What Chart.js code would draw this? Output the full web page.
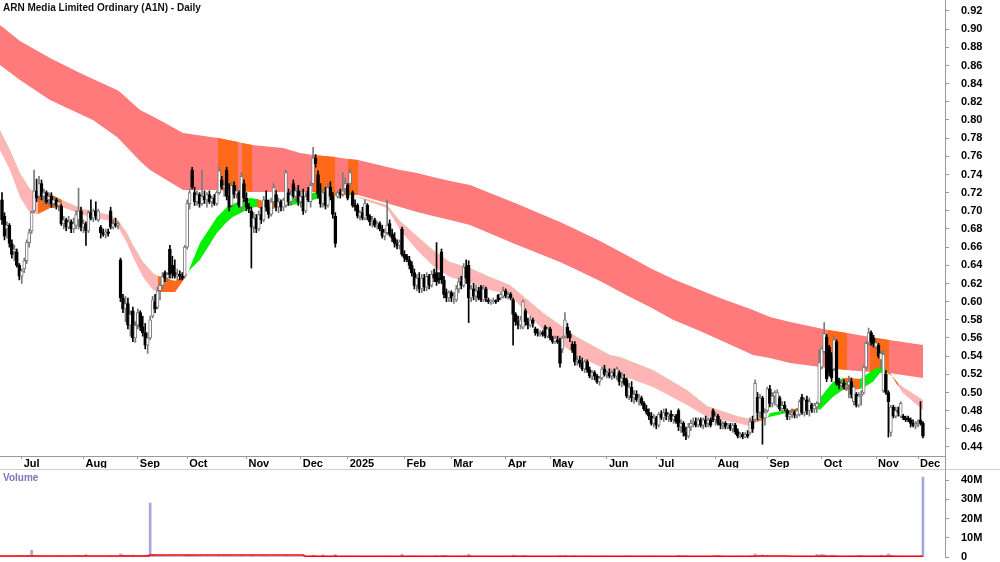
<!DOCTYPE html>
<html><head><meta charset="utf-8">
<script src="https://cdn.jsdelivr.net/npm/chart.js@4.4.1/dist/chart.umd.min.js"></script>
<style>
html,body{margin:0;padding:0;background:#fff;}
#wrap{position:relative;width:1000px;height:562px;overflow:hidden;font-family:"Liberation Sans",Arial,sans-serif;}
#price{position:absolute;left:0;top:0;}
#vol{position:absolute;left:0;top:468px;}
.title{position:absolute;left:3px;top:2px;font-weight:bold;font-size:10px;color:#111;white-space:nowrap;}
.vlabel{position:absolute;left:3px;top:472px;font-weight:bold;font-size:10px;color:#7878b8;}
.sep{position:absolute;left:0;top:469px;width:1000px;height:1px;background:#cfcfcf;}
.vline{position:absolute;left:945px;top:455px;width:1px;height:16px;background:#999;}
</style></head><body>
<div id="wrap">
<canvas id="price" width="1000" height="468"></canvas>
<canvas id="vol" width="1000" height="94"></canvas>
<div class="sep"></div>
<div class="vline"></div>
<div class="title">ARN Media Limited Ordinary (A1N) - Daily</div>
<div class="vlabel">Volume</div>
</div>
<script>
// ---- tick labels ----
const monthLabels = ['Jul','Aug','Sep','Oct','Nov','Dec','2025','Feb','Mar','Apr','May','Jun','Jul','Aug','Sep','Oct','Nov','Dec'];
const monthTickIdx = [8,33,55,75,99,121,140,163,182,204,222,245,265,289,310,332,354,371];
const priceTicks = [0.44,0.46,0.48,0.50,0.52,0.54,0.56,0.58,0.60,0.62,0.64,0.66,0.68,0.70,0.72,0.74,0.76,0.78,0.80,0.82,0.84,0.86,0.88,0.90,0.92];
const volTicks = [0,10,20,30,40];

// ---- daily candles (trading-day index 0..373) ----
const opens = [.712,.694,.680,.684,.664,.655,.655,.640,.628,.636,.645,.665,.678,.700,.722,.716,.730,.716,.720,.712,
.716,.708,.712,.706,.705,.686,.690,.682,.688,.680,.684,.690,.700,.682,.686,.678,.698,.692,.700,.690,
.682,.676,.674,.677,.700,.682,.686,.684,.646,.604,.592,.598,.574,.590,.560,.574,.588,.572,.566,.552,
.560,.584,.600,.594,.612,.618,.632,.626,.658,.640,.632,.628,.630,.628,.628,.660,.708,.745,.720,.710,
.718,.708,.716,.712,.718,.710,.714,.708,.720,.734,.726,.745,.716,.706,.728,.718,.720,.704,.730,.714,
.704,.700,.682,.692,.680,.696,.690,.712,.704,.696,.710,.718,.704,.710,.704,.706,.720,.710,.730,.716,
.722,.710,.716,.700,.722,.710,.730,.758,.740,.718,.708,.720,.706,.726,.716,.694,.716,.720,.718,.724,
.728,.730,.720,.706,.706,.694,.698,.692,.706,.694,.688,.690,.684,.686,.680,.672,.676,.686,.674,.670,
.664,.662,.680,.652,.650,.646,.640,.632,.618,.626,.614,.626,.616,.628,.618,.630,.632,.626,.655,.624,
.610,.604,.610,.604,.602,.614,.622,.618,.638,.640,.604,.614,.606,.612,.616,.602,.614,.602,.600,.600,
.601,.607,.604,.606,.612,.606,.608,.602,.586,.578,.574,.572,.590,.578,.574,.580,.570,.566,.565,.566,
.572,.562,.570,.560,.556,.558,.557,.548,.562,.572,.564,.553,.553,.534,.536,.532,.526,.534,.525,.518,
.522,.518,.512,.516,.526,.520,.522,.518,.522,.518,.522,.512,.516,.514,.496,.506,.494,.498,.492,.494,
.488,.482,.478,.474,.466,.472,.464,.476,.472,.478,.474,.476,.470,.474,.480,.462,.466,.456,.452,.462,
.466,.468,.464,.470,.464,.470,.466,.470,.480,.470,.474,.466,.464,.466,.462,.464,.460,.464,.457,.452,
.454,.451,.454,.456,.468,.470,.495,.478,.494,.472,.480,.504,.488,.496,.486,.494,.482,.486,.480,.473,
.476,.478,.475,.476,.495,.478,.492,.480,.486,.482,.484,.488,.528,.545,.561,.550,.540,.526,.556,.512,
.508,.510,.506,.508,.512,.490,.498,.486,.496,.500,.528,.555,.566,.560,.550,.552,.536,.502,.520,.500,
.456,.484,.474,.480,.474,.474,.472,.472,.470,.466,.464,.466,.470,.466];
const highs = [.720,.698,.688,.686,.668,.662,.658,.642,.636,.648,.668,.680,.700,.745,.735,.738,.734,.724,.722,.720,
.720,.716,.714,.712,.707,.694,.692,.694,.690,.692,.700,.725,.704,.690,.688,.700,.712,.702,.710,.702,
.684,.680,.680,.680,.704,.690,.692,.688,.648,.608,.606,.604,.590,.594,.578,.592,.590,.584,.576,.566,
.584,.606,.608,.616,.622,.632,.634,.632,.662,.650,.646,.636,.634,.632,.662,.712,.724,.748,.726,.722,
.720,.745,.722,.720,.722,.716,.718,.722,.748,.738,.732,.748,.730,.732,.732,.726,.722,.742,.734,.720,
.708,.704,.698,.696,.700,.704,.716,.722,.712,.714,.730,.722,.714,.712,.714,.745,.724,.722,.734,.726,
.728,.722,.724,.720,.726,.732,.770,.762,.744,.730,.724,.726,.730,.732,.720,.698,.722,.724,.742,.736,
.730,.746,.722,.712,.708,.700,.704,.712,.708,.696,.694,.692,.688,.688,.684,.680,.712,.690,.680,.676,
.668,.668,.682,.656,.652,.650,.644,.636,.630,.632,.630,.630,.632,.630,.634,.636,.665,.632,.658,.628,
.614,.612,.612,.610,.618,.626,.628,.642,.646,.645,.618,.620,.618,.616,.618,.618,.616,.604,.602,.604,
.602,.608,.610,.616,.614,.610,.610,.604,.588,.584,.584,.602,.592,.582,.584,.582,.572,.570,.568,.568,
.574,.572,.572,.562,.562,.562,.560,.562,.588,.576,.568,.556,.556,.540,.540,.538,.536,.536,.528,.524,
.524,.520,.518,.528,.530,.524,.526,.524,.526,.528,.524,.522,.520,.516,.510,.512,.502,.502,.498,.496,
.490,.486,.482,.478,.476,.474,.478,.480,.482,.482,.478,.480,.476,.476,.482,.470,.468,.462,.466,.470,
.472,.472,.472,.472,.472,.474,.472,.472,.482,.478,.476,.470,.468,.468,.466,.466,.466,.466,.460,.456,
.456,.456,.458,.472,.474,.514,.500,.498,.496,.482,.506,.508,.500,.502,.503,.496,.490,.490,.482,.480,
.482,.480,.482,.492,.498,.494,.496,.494,.488,.488,.490,.547,.550,.577,.564,.552,.544,.562,.558,.516,
.514,.514,.512,.518,.516,.508,.500,.500,.502,.530,.556,.571,.568,.563,.558,.554,.546,.546,.524,.502,
.486,.486,.484,.484,.490,.476,.474,.474,.472,.470,.468,.470,.490,.468];
const lows = [.685,.668,.670,.660,.648,.645,.638,.624,.620,.632,.642,.660,.675,.698,.710,.712,.712,.706,.708,.706,
.704,.704,.702,.700,.684,.680,.678,.680,.676,.676,.680,.680,.678,.676,.662,.676,.690,.688,.690,.688,
.670,.672,.670,.672,.680,.680,.682,.680,.600,.588,.578,.570,.562,.556,.555,.570,.568,.562,.548,.543,
.558,.582,.588,.592,.602,.614,.622,.622,.626,.626,.626,.624,.624,.624,.626,.658,.702,.724,.706,.706,
.704,.706,.708,.704,.708,.704,.706,.706,.718,.724,.716,.712,.700,.704,.714,.714,.704,.700,.710,.700,
.698,.637,.676,.676,.678,.686,.688,.700,.692,.694,.706,.700,.698,.700,.700,.704,.706,.706,.714,.710,
.706,.704,.696,.698,.710,.704,.728,.748,.714,.704,.704,.702,.704,.712,.692,.660,.714,.714,.716,.720,
.712,.728,.704,.700,.692,.690,.690,.690,.690,.684,.682,.682,.680,.678,.670,.668,.674,.672,.666,.660,
.658,.658,.650,.644,.644,.636,.628,.614,.612,.610,.610,.612,.612,.614,.616,.622,.618,.620,.620,.604,
.600,.600,.600,.598,.600,.610,.614,.616,.620,.577,.600,.602,.600,.602,.600,.600,.600,.598,.597,.598,
.598,.600,.602,.604,.604,.603,.602,.552,.574,.570,.570,.570,.574,.570,.572,.572,.563,.562,.562,.562,
.560,.560,.558,.554,.554,.554,.528,.544,.560,.560,.556,.544,.530,.530,.528,.524,.522,.522,.516,.514,
.514,.510,.508,.514,.518,.516,.516,.514,.516,.514,.508,.506,.508,.494,.492,.490,.488,.490,.486,.486,
.480,.476,.470,.464,.462,.460,.462,.470,.468,.470,.468,.468,.466,.466,.458,.456,.452,.448,.450,.458,
.462,.462,.462,.462,.460,.462,.462,.462,.468,.464,.464,.460,.460,.460,.460,.458,.456,.454,.450,.450,
.449,.450,.450,.454,.456,.468,.470,.472,.443,.464,.478,.484,.484,.486,.484,.480,.478,.480,.470,.470,
.472,.472,.472,.474,.476,.474,.476,.474,.478,.478,.478,.486,.526,.543,.512,.518,.512,.524,.508,.504,
.504,.504,.502,.494,.494,.486,.484,.484,.486,.498,.526,.552,.552,.550,.548,.538,.526,.500,.498,.451,
.452,.472,.472,.474,.472,.470,.468,.468,.462,.462,.460,.462,.464,.450];
const closes = [.690,.672,.684,.664,.652,.658,.640,.628,.634,.645,.665,.676,.698,.722,.714,.730,.716,.720,.710,.716,
.708,.712,.706,.710,.686,.690,.682,.688,.680,.686,.696,.700,.682,.686,.678,.698,.692,.700,.694,.700,
.676,.674,.677,.675,.682,.686,.684,.686,.604,.592,.598,.574,.586,.560,.574,.588,.572,.566,.552,.560,
.580,.602,.592,.612,.618,.628,.626,.630,.630,.632,.628,.630,.628,.626,.660,.708,.720,.726,.710,.718,
.708,.716,.712,.718,.710,.714,.708,.720,.744,.726,.728,.716,.704,.728,.718,.722,.706,.738,.714,.704,
.702,.682,.692,.680,.696,.690,.712,.704,.696,.710,.726,.704,.710,.704,.712,.742,.710,.718,.716,.722,
.710,.716,.700,.716,.712,.728,.758,.752,.718,.708,.720,.706,.726,.716,.696,.664,.720,.718,.722,.730,
.714,.742,.706,.704,.694,.698,.692,.708,.694,.688,.690,.684,.686,.680,.672,.676,.684,.674,.670,.664,
.662,.666,.652,.648,.646,.640,.632,.618,.626,.614,.626,.616,.628,.618,.630,.626,.622,.624,.624,.608,
.604,.610,.604,.606,.614,.622,.618,.638,.626,.604,.614,.606,.612,.604,.602,.614,.604,.600,.600,.601,
.600,.602,.608,.612,.606,.608,.604,.586,.578,.574,.580,.600,.578,.574,.580,.576,.566,.565,.566,.564,
.562,.570,.560,.556,.560,.556,.532,.560,.580,.564,.560,.547,.534,.536,.532,.526,.534,.525,.518,.522,
.518,.512,.516,.526,.520,.522,.518,.522,.518,.526,.512,.516,.510,.496,.506,.494,.498,.492,.494,.488,
.482,.478,.474,.466,.472,.464,.476,.472,.478,.474,.476,.470,.474,.468,.462,.466,.456,.452,.462,.466,
.468,.464,.470,.464,.470,.466,.470,.464,.470,.474,.466,.464,.466,.462,.464,.460,.464,.457,.452,.454,
.451,.454,.452,.468,.460,.510,.478,.494,.472,.478,.504,.488,.496,.500,.500,.482,.486,.482,.473,.476,
.478,.475,.480,.490,.478,.492,.480,.490,.482,.486,.488,.533,.548,.565,.515,.522,.516,.558,.510,.508,
.510,.506,.508,.512,.498,.506,.486,.496,.498,.528,.554,.566,.556,.553,.555,.540,.543,.542,.500,.490,
.484,.474,.480,.478,.488,.472,.470,.470,.466,.464,.466,.468,.466,.452];

// ---- volume (millions) ----
const volumeM = [0.6,0.4,0.3,0.5,0.4,0.3,0.6,0.8,0.5,0.4,0.7,0.9,3.5,0.8,0.5,0.6,0.4,0.3,0.5,0.4,
0.3,0.4,0.3,0.5,0.7,0.4,0.3,0.3,0.4,0.5,0.6,0.8,0.4,0.3,1.2,0.5,0.4,0.3,0.4,0.3,
0.3,0.2,0.3,0.4,0.6,0.3,0.4,0.3,1.6,1.1,0.8,0.9,0.7,1.0,0.6,0.5,0.7,0.6,0.9,1.2,
28.0,1.4,0.9,0.8,0.7,0.6,0.5,0.4,0.6,0.5,0.4,0.3,0.3,0.4,0.6,1.0,0.8,0.7,0.6,0.5,
0.4,0.6,0.3,0.4,0.3,0.3,0.4,0.3,0.7,0.5,0.4,0.6,0.5,0.4,0.3,0.4,0.4,0.6,0.4,0.3,
0.3,0.8,0.4,0.3,0.3,0.4,0.5,0.4,0.3,0.3,0.5,0.4,0.3,0.3,0.3,0.6,0.4,0.3,0.4,0.3,
0.3,0.3,0.4,0.3,0.3,0.4,0.9,0.5,0.4,0.3,1.1,0.4,0.3,0.4,0.5,1.3,0.4,0.3,0.4,0.3,
0.4,0.5,0.4,0.3,0.4,0.3,0.3,0.4,0.3,0.3,0.3,0.2,0.3,0.3,0.4,0.3,0.5,0.4,0.3,0.3,
0.3,0.3,1.5,0.6,0.4,0.5,0.4,0.6,0.4,0.5,0.4,0.3,0.4,0.3,0.4,0.3,0.7,0.4,0.6,0.8,
0.6,0.4,0.3,0.4,0.3,0.4,0.4,0.6,0.5,1.4,0.6,0.4,0.4,0.3,0.4,0.4,0.3,0.2,0.2,0.2,
0.2,0.3,0.3,0.4,0.3,0.2,0.3,1.0,0.6,0.5,0.4,0.8,0.5,0.4,0.3,0.3,0.3,0.2,0.2,0.3,
0.4,0.3,0.3,0.3,0.2,0.3,0.7,0.5,0.8,0.4,0.3,0.5,0.6,0.4,0.3,0.4,0.3,0.4,0.5,0.3,
0.3,0.4,0.3,0.5,0.3,0.3,0.3,0.3,0.3,0.3,0.4,0.3,0.3,0.7,0.4,0.5,0.3,0.3,0.3,0.4,
0.5,0.4,0.4,0.6,0.4,0.5,0.4,0.3,0.3,0.3,0.3,0.3,0.3,0.3,0.8,0.5,0.6,0.7,0.4,0.3,
0.3,0.3,0.3,0.3,0.3,0.3,0.3,0.3,0.6,0.4,0.4,0.3,0.3,0.2,0.2,0.3,0.3,0.4,0.5,0.3,
0.4,0.3,0.3,0.6,0.5,1.6,0.9,0.6,1.1,0.5,0.9,0.6,0.4,0.4,0.5,0.5,0.4,0.3,0.5,0.3,
0.3,0.3,0.3,0.5,0.5,0.4,0.4,0.4,0.3,0.3,1.3,1.0,1.4,1.2,0.9,0.7,1.0,0.9,0.6,0.4,
0.3,0.4,0.3,0.5,0.5,0.4,0.6,0.8,0.9,0.6,0.5,0.4,0.6,0.5,0.5,0.6,1.0,0.6,0.8,1.6,
1.0,0.6,0.5,0.4,0.5,0.4,0.3,0.3,0.4,0.4,0.3,0.3,0.7,41.5];
const volMAIdx = [-0.81,59.5,60,122,123,200,288,290,292,305,306,318,320,373];
const volMA    = [0.55,0.55,1.05,1.0,0.35,0.35,0.35,0.5,0.35,0.35,0.55,0.55,0.35,0.4];

// ---- long-term moving-average ribbon (edges) ----
const longIdx = [-0.81,7.29,19.44,31.59,36.86,46.58,47.79,55.89,59.94,66.02,73.31,87.48,95.58,97.21,101.26,113.81,120.70,125.96,134.87,140.14,144.19,154.31,161.20,168.08,174.57,181.45,189.55,207.78,226.00,232.89,242.20,254.35,262.45,271.77,282.70,290.81,304.17,311.06,319.16,334.55,342.24,351.56,359.26,373.03];
const longTop = [0.9046,0.8870,0.8683,0.8518,0.8452,0.8330,0.8308,0.8110,0.8055,0.7967,0.7857,0.7802,0.7758,0.7747,0.7725,0.7692,0.7637,0.7615,0.7593,0.7571,0.7560,0.7494,0.7450,0.7417,0.7373,0.7329,0.7285,0.7087,0.6878,0.6790,0.6668,0.6492,0.6371,0.6250,0.6129,0.6041,0.5909,0.5832,0.5777,0.5689,0.5656,0.5612,0.5579,0.5524];
const longBot = [0.8606,0.8440,0.8220,0.8066,0.8000,0.7813,0.7780,0.7549,0.7450,0.7351,0.7230,0.7230,0.7219,0.7219,0.7208,0.7208,0.7208,0.7208,0.7175,0.7175,0.7175,0.7098,0.7043,0.6988,0.6944,0.6900,0.6845,0.6635,0.6437,0.6349,0.6228,0.6052,0.5942,0.5800,0.5678,0.5579,0.5414,0.5381,0.5326,0.5270,0.5248,0.5226,0.5215,0.5160];

// ---- short-term ribbon: fast edge and slow edge ----
const ribIdx = [-0.81,3.24,7.29,11.34,14.58,19.44,24.30,32.81,43.74,46.98,50.63,53.06,57.11,61.16,63.18,70.07,75.33,76.14,80.19,87.08,91.13,93.56,97.61,100.45,103.28,107.33,111.38,120.70,128.80,134.06,139.73,142.16,147.83,155.93,161.20,168.08,174.57,181.45,189.55,197.65,205.75,219.12,232.89,246.25,250.30,263.67,277.44,285.54,297.69,302.96,305.79,309.84,311.06,317.94,319.16,324.42,330.09,331.31,336.57,340.62,347.51,348.72,352.77,355.61,358.04,360.47,362.90,364.92,373.03];
const ribFast = [0.767,0.745,0.7153,0.6977,0.6966,0.7032,0.7043,0.6955,0.6888,0.6823,0.6646,0.6492,0.6272,0.6129,0.6107,0.6107,0.6311,0.6382,0.6646,0.6933,0.7043,0.7076,0.7120,0.7142,0.7131,0.7087,0.7098,0.7153,0.7219,0.7197,0.7219,0.7170,0.7109,0.7032,0.6790,0.6569,0.6393,0.6272,0.6206,0.6129,0.6074,0.5689,0.5403,0.5237,0.5194,0.5061,0.4863,0.4731,0.4665,0.4632,0.4676,0.4720,0.4775,0.4808,0.4808,0.4841,0.4874,0.4940,0.5116,0.5160,0.5149,0.5171,0.5248,0.5281,0.5270,0.5182,0.5072,0.4995,0.4808];
const ribSlow = [0.789,0.767,0.7417,0.7241,0.7186,0.7186,0.7120,0.7021,0.6955,0.6900,0.6757,0.6624,0.6437,0.6316,0.6283,0.6228,0.6311,0.6349,0.6459,0.6757,0.6878,0.6933,0.6988,0.7032,0.7043,0.6988,0.7043,0.7076,0.7142,0.7164,0.7175,0.7170,0.7131,0.7065,0.6888,0.6723,0.6569,0.6437,0.6371,0.6272,0.6184,0.5877,0.5612,0.5414,0.5392,0.5248,0.5028,0.4852,0.4742,0.4709,0.4709,0.4720,0.4731,0.4775,0.4775,0.4797,0.4819,0.4808,0.4951,0.5028,0.5039,0.5050,0.5116,0.5215,0.5226,0.5182,0.5105,0.5061,0.4918];

// ---- index spans where the ribbons are drawn orange ----
const orangeLongRanges = [[87.48,95.58],[97.21,101.26],[125.96,134.87],[140.14,144.19],[334.55,342.24],[351.56,359.26]];
const orangeRibbonRanges = [[14.58,24.30],[63.18,75.33],[103.28,111.38],[134.06,139.73],[305.79,309.84],[319.16,324.42],[340.62,347.51],[358.04,362.90]];

// ---- styling ----
const RED = '#ff7a7a', PINK = '#ffb5b5', GREEN = '#00f000', ORANGE = '#ff6a1a';
const X_MIN = -0.81, X_MAX = 381.93;
const Y_MIN = 0.43009, Y_MAX = 0.93211;
const FONT = {family: '"Liberation Sans", Arial, sans-serif', size: 11, weight: 'bold', lineHeight: 1};

function pts(xs, ys) { return xs.map((x, k) => ({x: x, y: ys[k]})); }
function within(xs, r) { const o = []; xs.forEach((x, k) => { if (x >= r[0] - 1e-6 && x <= r[1] + 1e-6) o.push(k); }); return o; }
function noPad(s) { s.paddingTop = 0; s.paddingBottom = 0; s.paddingLeft = 0; s.paddingRight = 0; }

const datasets = [];
function add(ds) { ds.order = 1000 - datasets.length; datasets.push(ds); return datasets.length - 1; }
function lineDS(data, extra) {
  return Object.assign({type: 'line', data: data, pointRadius: 0, borderWidth: 0, borderColor: 'rgba(0,0,0,0)', tension: 0, fill: false}, extra || {});
}

// long band
add(lineDS(pts(longIdx, longTop)));
add(lineDS(pts(longIdx, longBot), {fill: '-1', backgroundColor: RED}));
// orange columns over long band
orangeLongRanges.forEach(r => {
  const ks = within(longIdx, r);
  add(lineDS(ks.map(k => ({x: longIdx[k], y: longTop[k]}))));
  add(lineDS(ks.map(k => ({x: longIdx[k], y: longBot[k]})), {fill: '-1', backgroundColor: ORANGE}));
});
// short ribbon: green where fast above slow, pink where below
add(lineDS(pts(ribIdx, ribSlow)));
add(lineDS(pts(ribIdx, ribFast), {fill: {target: '-1', above: GREEN, below: PINK}}));
orangeRibbonRanges.forEach(r => {
  const ks = within(ribIdx, r);
  add(lineDS(ks.map(k => ({x: ribIdx[k], y: Math.max(ribFast[k], ribSlow[k])}))));
  add(lineDS(ks.map(k => ({x: ribIdx[k], y: Math.min(ribFast[k], ribSlow[k])})), {fill: '-1', backgroundColor: ORANGE}));
});

// candles
const wick = [], body = [], wickCol = [], bodyFill = [], bodyBorder = [];
opens.forEach((o, i) => {
  const c = closes[i], up = c >= o;
  wick.push({x: i, y: [lows[i], highs[i]]});
  body.push({x: i, y: [Math.min(o, c), Math.max(o, c)]});
  wickCol.push(up ? '#7a7a7a' : '#000000');
  bodyFill.push(up ? '#ffffff' : '#000000');
  bodyBorder.push(up ? '#7a7a7a' : '#000000');
});
add({type: 'bar', data: wick, backgroundColor: wickCol, barThickness: 1, grouped: false, borderWidth: 0});
add({type: 'bar', data: body, backgroundColor: bodyFill, borderColor: bodyBorder, borderWidth: 1, borderSkipped: false, barThickness: 3, grouped: false, minBarLength: 1});

new Chart(document.getElementById('price'), {
  type: 'bar',
  data: {datasets: datasets},
  options: {
    responsive: false, animation: false, devicePixelRatio: 1, events: [],
    layout: {padding: 0},
    plugins: {legend: {display: false}, tooltip: {enabled: false}, title: {display: false}},
    scales: {
      x: {
        type: 'linear', min: X_MIN, max: X_MAX, offset: false, position: 'bottom',
        afterBuildTicks: s => { s.ticks = monthTickIdx.map(v => ({value: v})); },
        afterFit: s => { s.height = 12; noPad(s); },
        grid: {display: true, drawOnChartArea: false, drawTicks: true, tickLength: 3, color: '#999', offset: false},
        border: {display: true, color: '#999'},
        ticks: {autoSkip: false, maxRotation: 0, minRotation: 0, align: 'start', labelOffset: 2, padding: -1, color: '#000', font: FONT,
          callback: (v, i) => monthLabels[i]}
      },
      y: {
        type: 'linear', position: 'right', min: Y_MIN, max: Y_MAX, beginAtZero: false,
        afterBuildTicks: s => { s.ticks = priceTicks.map(v => ({value: v})); },
        afterFit: s => { s.width = 55; noPad(s); },
        grid: {drawOnChartArea: false, tickLength: 4, color: '#999'},
        border: {display: true, color: '#999'},
        ticks: {padding: 12, color: '#000', font: FONT, callback: v => v.toFixed(2)}
      }
    }
  }
});

new Chart(document.getElementById('vol'), {
  type: 'bar',
  data: {datasets: [
    {type: 'line', data: pts(volMAIdx, volMA), borderColor: '#ff0000', borderWidth: 1.5, pointRadius: 0, fill: false, tension: 0, order: 0},
    {type: 'bar', data: volumeM.map((v, i) => ({x: i, y: v})), backgroundColor: '#a6a6da', barThickness: 2, grouped: false, order: 1}
  ]},
  options: {
    responsive: false, animation: false, devicePixelRatio: 1, events: [],
    layout: {padding: {top: 2, bottom: 5, left: 0, right: 0}},
    plugins: {legend: {display: false}, tooltip: {enabled: false}},
    scales: {
      x: {type: 'linear', display: false, min: X_MIN, max: X_MAX, offset: false, grid: {offset: false}},
      y: {
        type: 'linear', position: 'right', min: 0, max: 45.2, beginAtZero: true,
        afterBuildTicks: s => { s.ticks = volTicks.map(v => ({value: v})); },
        afterFit: s => { s.width = 55; noPad(s); },
        grid: {drawOnChartArea: false, tickLength: 4, color: '#999'},
        border: {display: true, color: '#999'},
        ticks: {padding: 12, color: '#000', font: FONT, callback: v => v === 0 ? '0' : v + 'M'}
      }
    }
  }
});
</script>
</body></html>
